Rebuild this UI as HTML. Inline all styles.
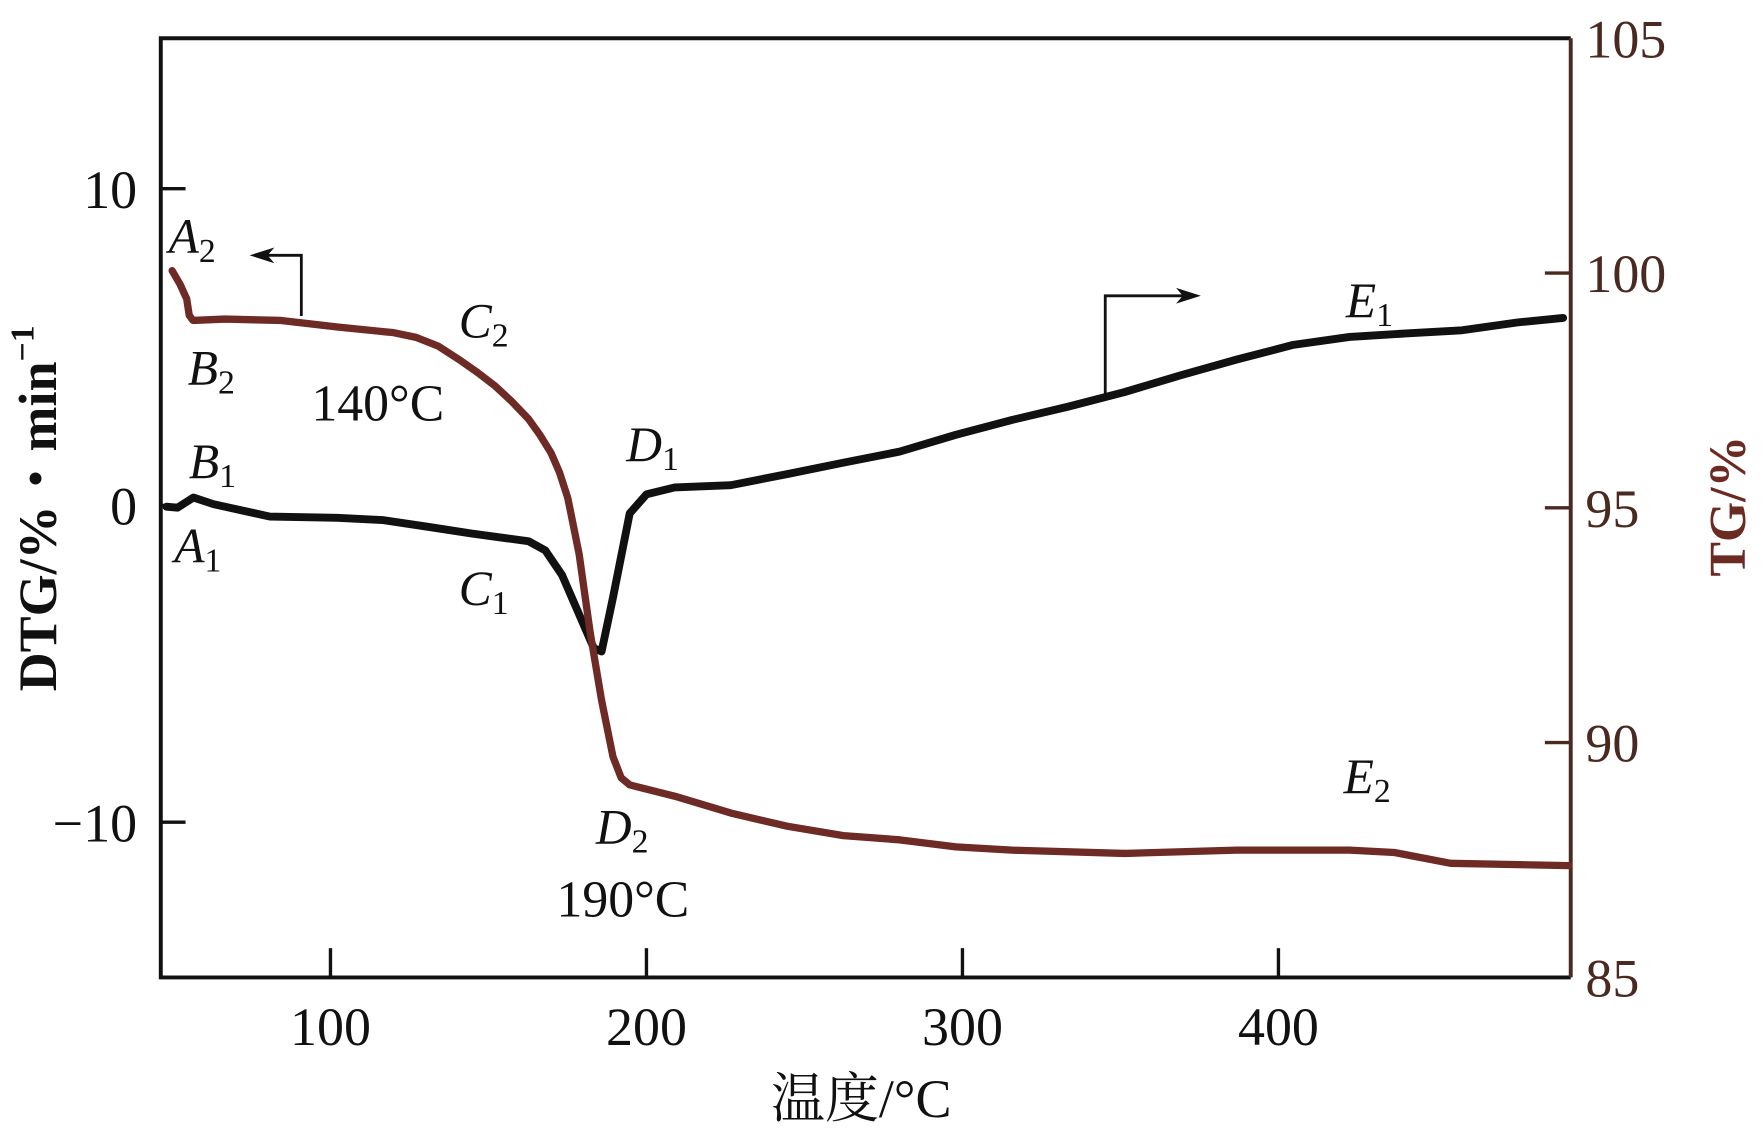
<!DOCTYPE html>
<html><head><meta charset="utf-8"><style>
html,body{margin:0;padding:0;background:#fff}
svg{display:block}
text{font-family:"Liberation Serif","Noto Serif CJK SC",serif}
</style></head><body>
<svg id="chart" width="1763" height="1136" viewBox="0 0 1568 1010" preserveAspectRatio="none" xmlns="http://www.w3.org/2000/svg">
<g id="axes"></g>
<g id="series"></g>
<g id="annot" font-size="44" fill="#111">
  <text x="150" y="225" font-style="italic">A<tspan font-size="30" dy="8" font-style="normal">2</tspan></text>
  <text x="167" y="342" font-style="italic">B<tspan font-size="30" dy="8" font-style="normal">2</tspan></text>
  <text x="277" y="374" font-size="46">140°C</text>
  <text x="408" y="300" font-style="italic">C<tspan font-size="30" dy="8" font-style="normal">2</tspan></text>
  <text x="168" y="425" font-style="italic">B<tspan font-size="30" dy="8" font-style="normal">1</tspan></text>
  <text x="155" y="500" font-style="italic">A<tspan font-size="30" dy="8" font-style="normal">1</tspan></text>
  <text x="408" y="538" font-style="italic">C<tspan font-size="30" dy="8" font-style="normal">1</tspan></text>
  <text x="557" y="410" font-style="italic">D<tspan font-size="30" dy="8" font-style="normal">1</tspan></text>
  <text x="530" y="750" font-style="italic">D<tspan font-size="30" dy="8" font-style="normal">2</tspan></text>
  <text x="495" y="815" font-size="46">190°C</text>
  <text x="1197" y="282" font-style="italic">E<tspan font-size="30" dy="8" font-style="normal">1</tspan></text>
  <text x="1195" y="705" font-style="italic">E<tspan font-size="30" dy="8" font-style="normal">2</tspan></text>
  <polyline points="268,281 268,227 232,227" fill="none" stroke="#111" stroke-width="2.5"/>
  <polygon points="222,227 244,220 238,227 244,234" fill="#111"/>
  <polyline points="983,353 983,263 1058,263" fill="none" stroke="#111" stroke-width="2.5"/>
  <polygon points="1068,263 1046,256 1052,263 1046,270" fill="#111"/>
</g>
<text x="766" y="993" font-size="48" text-anchor="middle" fill="#111">温度/°C</text>
<text transform="translate(50,452) rotate(-90)" font-size="48" font-weight="bold" text-anchor="middle" fill="#111">DTG/%・min<tspan font-size="30" dy="-20">−1</tspan></text>
<text transform="translate(1552,450) rotate(-90)" font-size="46" font-weight="bold" text-anchor="middle" fill="#6b2a22">TG/%</text>
</svg>
<script>
const xTicks=[100,200,300,400];
const dtgTicks=[10,0,-10];
const dtgTickLabels=["10","0","−10"];
const tgTicks=[105,100,95,90,85];
const tgTickLabels=["105","100","95","90","85"];
const dtgT=[48.1,51.6,56.6,63.0,80.8,102.2,116.4,130.6,144.9,162.7,168.0,173.3,178.7,183.3,185.8,189.4,194.7,200.0,208.9,226.7,244.5,262.3,280.1,297.9,315.7,333.5,351.3,369.1,386.9,404.7,422.5,440.3,458.1,475.8,490.1];
const dtgV=[-0.04,-0.07,0.25,0.04,-0.35,-0.39,-0.46,-0.67,-0.89,-1.13,-1.42,-2.2,-3.44,-4.5,-4.61,-2.91,-0.25,0.35,0.57,0.64,0.99,1.35,1.70,2.23,2.70,3.12,3.58,4.11,4.61,5.07,5.32,5.43,5.53,5.78,5.92];
const tgT=[49.9,52.4,54.5,55.3,56.5,66.6,84.4,102.2,120.0,127.1,134.2,141.3,146.6,152.0,157.3,162.7,166.3,169.8,172.5,175.1,178.7,182.2,185.8,189.4,192.0,194.7,208.9,226.7,244.5,262.3,280.1,297.9,315.7,351.3,386.9,422.5,436.7,454.5,491.9];
const tgV=[100.05,99.76,99.45,99.1,98.99,99.02,98.99,98.85,98.73,98.63,98.44,98.13,97.88,97.60,97.27,96.89,96.55,96.17,95.75,95.21,94.01,92.34,90.90,89.70,89.25,89.10,88.86,88.50,88.22,88.02,87.93,87.78,87.71,87.64,87.71,87.71,87.66,87.43,87.38];

const L=143,R=1397,T=34,B=869;
const xMin=46.3,xMax=492.5,dMin=-14.9,dMax=14.75,gMin=85,gMax=105;
const sx=v=>L+(v-xMin)/(xMax-xMin)*(R-L);
const sd=v=>B-(v-dMin)/(dMax-dMin)*(B-T);
const sg=v=>B-(v-gMin)/(gMax-gMin)*(B-T);
const NS="http://www.w3.org/2000/svg";
const axes=document.getElementById('axes');
const series=document.getElementById('series');
function mk(tag,attrs,parent){const e=document.createElementNS(NS,tag);for(const k in attrs)e.setAttribute(k,attrs[k]);parent.appendChild(e);return e;}

let e;
e=mk('path',{d:`M${R},${T} L${L},${T} L${L},${B} L${R},${B}`,fill:'none',stroke:'#111','stroke-width':3.5},axes);


e=mk('line',{x1:R,y1:T,x2:R,y2:B,stroke:'#4a2a20','stroke-width':3.5},axes);



xTicks.forEach(v=>{
  const x=sx(v);
  let t=mk('line',{x1:x,y1:B,x2:x,y2:B-26,stroke:'#111','stroke-width':3},axes);
  
  
  let l=mk('text',{x:x,y:929,'font-size':48,'text-anchor':'middle',fill:'#111'},axes);
  l.textContent=String(v);
  
  
});
dtgTicks.forEach((v,i)=>{
  const y=sd(v);
  let t=mk('line',{x1:L,y1:y,x2:L+22,y2:y,stroke:'#111','stroke-width':3},axes);
  
  
  let l=mk('text',{x:122,y:y+17,'font-size':48,'text-anchor':'end',fill:'#111'},axes);
  l.textContent=dtgTickLabels[i];
  
  
});
tgTicks.forEach((v,i)=>{
  const y=sg(v);
  if(v!==gMin&&v!==gMax){
    let t=mk('line',{x1:R,y1:y,x2:R-23,y2:y,stroke:'#4a2a20','stroke-width':3},axes);
    
    
  }
  let l=mk('text',{x:1410,y:y+17,'font-size':48,fill:'#4a2a20'},axes);
  l.textContent=tgTickLabels[i];
  
  
});

let p=mk('polyline',{points:dtgT.map((t,i)=>sx(t)+','+sd(dtgV[i])).join(' '),fill:'none',stroke:'#111','stroke-width':7,'stroke-linejoin':'round','stroke-linecap':'round'},series);


p=mk('polyline',{points:tgT.map((t,i)=>sx(t)+','+sg(tgV[i])).join(' '),fill:'none',stroke:'#6e2a24','stroke-width':6.5,'stroke-linejoin':'round','stroke-linecap':'round'},series);


</script>
</body></html>
